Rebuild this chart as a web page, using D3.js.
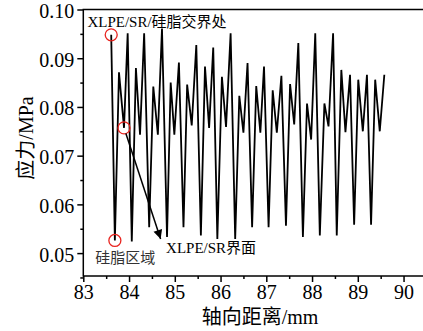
<!DOCTYPE html>
<html>
<head>
<meta charset="utf-8">
<script src="https://cdn.jsdelivr.net/npm/d3@7"></script>
<style>
  body { margin: 0; background: #fff; }
</style>
</head>
<body>
<script>
// distance along axis (mm) and stress (MPa)
var distance = [83.61, 83.69, 83.78, 83.89, 83.97, 84.06, 84.15, 84.24, 84.33, 84.44,
                84.53, 84.63, 84.72, 84.83, 84.91, 84.99, 85.09, 85.19, 85.27, 85.37,
                85.47, 85.57, 85.66, 85.75, 85.84, 85.93, 86.03, 86.12, 86.22, 86.32,
                86.41, 86.50, 86.59, 86.69, 86.78, 86.87, 86.95, 87.05, 87.14, 87.23,
                87.33, 87.43, 87.52, 87.61, 87.70, 87.80, 87.89, 87.98, 88.07, 88.17,
                88.27, 88.36, 88.46, 88.54, 88.64, 88.73, 88.83, 88.92, 89.01, 89.11,
                89.20, 89.29, 89.38, 89.48, 89.58];
var stress = [0.0948, 0.0526, 0.0871, 0.0757, 0.0951, 0.0524, 0.0880, 0.0743, 0.0951, 0.0553,
              0.0842, 0.0743, 0.0961, 0.0533, 0.0850, 0.0743, 0.0891, 0.0553, 0.0846, 0.0762,
              0.0927, 0.0536, 0.0883, 0.0757, 0.0922, 0.0529, 0.0862, 0.0759, 0.0951, 0.0529,
              0.0823, 0.0747, 0.0890, 0.0553, 0.0843, 0.0747, 0.0883, 0.0553, 0.0834, 0.0747,
              0.0864, 0.0556, 0.0847, 0.0764, 0.0931, 0.0533, 0.0807, 0.0733, 0.0951, 0.0536,
              0.0807, 0.0760, 0.0951, 0.0536, 0.0876, 0.0748, 0.0866, 0.0558, 0.0856, 0.0750,
              0.0866, 0.0558, 0.0856, 0.0750, 0.0866];

var xTicks = [83, 84, 85, 86, 87, 88, 89, 90];
var yTicks = [0.05, 0.06, 0.07, 0.08, 0.09, 0.10];

// marked points (index into the series)
var circled = [0, 1, 3];
var arrowFrom = 3, arrowTo = [84.69, 0.0529];

var FONT = "'Liberation Serif', 'Times New Roman', 'Noto Sans CJK SC', serif";

var width = 423, height = 331;
var margin = {left: 83.3, top: 9.5, bottom: 276};

var svg = d3.select("body").append("svg")
    .attr("width", width)
    .attr("height", height);

var x = d3.scaleLinear().domain([83, 90.5]).range([margin.left, margin.left + 7.5 * 45.75]);
var y = d3.scaleLinear().domain([0.0453, 0.10]).range([margin.bottom, margin.top]);

// frame
svg.append("rect")
    .attr("x", x(83)).attr("y", y(0.10))
    .attr("width", x(90.5) - x(83)).attr("height", y(0.0453) - y(0.10))
    .attr("fill", "none").attr("stroke", "#000").attr("stroke-width", 1.5);

// x axis
var xAxis = d3.axisBottom(x).tickValues(xTicks).tickSize(6).tickPadding(3)
    .tickFormat(d3.format("d"));
var gx = svg.append("g").attr("transform", "translate(0," + y(0.0453) + ")").call(xAxis);
gx.select(".domain").remove();
gx.selectAll("line").attr("stroke-width", 1.5);
gx.selectAll("text").style("font-size", "20px").style("font-family", FONT).attr("fill", "#000");
var gxm = svg.append("g").attr("transform", "translate(0," + y(0.0453) + ")")
    .call(d3.axisBottom(x).tickValues(xTicks.map(function(d) { return d + 0.5; })).tickSize(3).tickFormat(""));
gxm.select(".domain").remove();
gxm.selectAll("line").attr("stroke-width", 1.5);

// y axis
var yAxis = d3.axisLeft(y).tickValues(yTicks).tickSize(6).tickPadding(3)
    .tickFormat(d3.format(".2f"));
var gy = svg.append("g").attr("transform", "translate(" + x(83) + ",0)").call(yAxis);
gy.select(".domain").remove();
gy.selectAll("line").attr("stroke-width", 1.5);
gy.selectAll("text").style("font-size", "20px").style("font-family", FONT)
    .attr("fill", "#000").attr("dy", "0.4em");
var gym = svg.append("g").attr("transform", "translate(" + x(83) + ",0)")
    .call(d3.axisLeft(y).tickValues(yTicks.map(function(d) { return d - 0.005; })).tickSize(3).tickFormat(""));
gym.select(".domain").remove();
gym.selectAll("line").attr("stroke-width", 1.5);

// axis titles
svg.append("text")
    .attr("x", 260).attr("y", 324)
    .attr("text-anchor", "middle")
    .style("font-size", "20px").style("font-family", FONT)
    .text("轴向距离/mm");

svg.append("text")
    .attr("transform", "translate(33,138) rotate(-90)")
    .attr("text-anchor", "middle")
    .style("font-size", "20px").style("font-family", FONT)
    .text("应力/MPa");

// the stress curve
var pts = distance.map(function(d, i) { return [d, stress[i]]; });
var line = d3.line().x(function(d) { return x(d[0]); }).y(function(d) { return y(d[1]); });
svg.append("path")
    .datum(pts)
    .attr("d", line)
    .attr("fill", "none")
    .attr("stroke", "#000")
    .attr("stroke-width", 1.8)
    .attr("stroke-linejoin", "miter");

// red circles
svg.selectAll(".mark")
    .data(circled)
    .enter().append("circle")
    .attr("class", "mark")
    .attr("cx", function(i) { return x(distance[i]); })
    .attr("cy", function(i) { return y(stress[i]); })
    .attr("r", 6)
    .attr("fill", "none")
    .attr("stroke", "#e8241f")
    .attr("stroke-width", 1.3);

// arrow
svg.append("defs").append("marker")
    .attr("id", "head")
    .attr("viewBox", "0 0 10 10")
    .attr("refX", 10).attr("refY", 5)
    .attr("markerWidth", 15).attr("markerHeight", 9)
    .attr("markerUnits", "userSpaceOnUse")
    .attr("orient", "auto")
    .append("path").attr("d", "M0,0 L10,5 L0,10 Z").attr("fill", "#000");

var ax0 = x(distance[arrowFrom]), ay0 = y(stress[arrowFrom]);
var ax1 = x(arrowTo[0]), ay1 = y(arrowTo[1]);
var len = Math.sqrt((ax1 - ax0) * (ax1 - ax0) + (ay1 - ay0) * (ay1 - ay0));
svg.append("line")
    .attr("x1", ax0 + (ax1 - ax0) / len * 6).attr("y1", ay0 + (ay1 - ay0) / len * 6)
    .attr("x2", ax1).attr("y2", ay1)
    .attr("stroke", "#000").attr("stroke-width", 1.5)
    .attr("marker-end", "url(#head)");

// annotation texts
svg.append("text")
    .attr("x", x(83.09)).attr("y", y(0.0964))
    .style("font-size", "15px").style("font-family", FONT)
    .text("XLPE/SR/硅脂交界处");

svg.append("text")
    .attr("x", x(83.26)).attr("y", y(0.0480))
    .style("font-size", "15px").style("font-family", FONT)
    .attr("fill", "#333")
    .text("硅脂区域");

svg.append("text")
    .attr("x", x(84.81)).attr("y", y(0.0500))
    .style("font-size", "15px").style("font-family", FONT)
    .text("XLPE/SR界面");
</script>
</body>
</html>
